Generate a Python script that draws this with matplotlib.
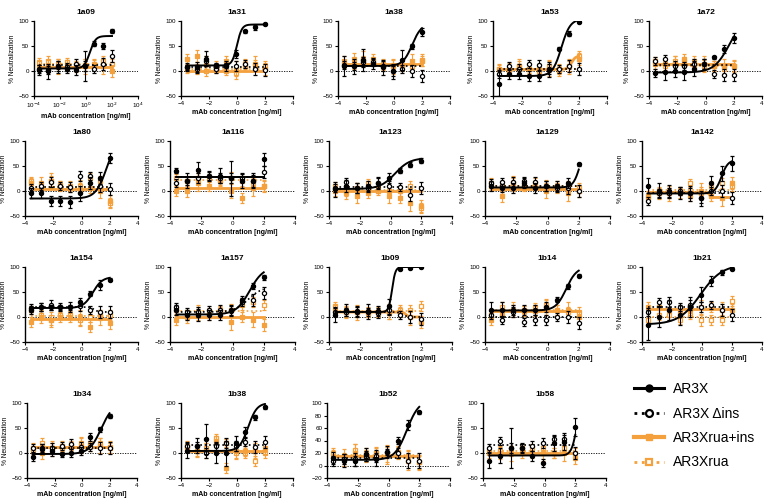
import numpy as np
import matplotlib
matplotlib.use("Agg")
import matplotlib.pyplot as plt
from matplotlib.lines import Line2D

plt.rcParams['font.family'] = ['Liberation Sans', 'DejaVu Sans']

panels = ['1a09', '1a31', '1a38', '1a53', '1a72',
          '1a80', '1a116', '1a123', '1a129', '1a142',
          '1a154', '1a157', '1b09', '1b14', '1b21',
          '1b34', '1b38', '1b52', '1b58']

conc_log = [-3.59, -2.89, -2.19, -1.49, -0.80, -0.10, 0.60, 1.30, 2.00]

ar3x_mean = {
    '1a09': [2, 0, 8, 5, 3, 10, 55, 50, 80],
    '1a31': [8, 8, 25, 12, 12, 35, 80, 88, 95],
    '1a38': [10, 10, 22, 15, 8, 0, 22, 50, 78],
    '1a53': [-25, -5, -5, -10, -10, 3, 45, 75, 98],
    '1a72': [-3, -2, 0, -2, 5, 15, 28, 45, 66],
    '1a80': [-5, -5, -20, -20, -22, -5, 15, 25, 65],
    '1a116': [40, 20, 42, 30, 30, 25, 20, 20, 63],
    '1a123': [3, 10, 5, 10, 15, 25, 40, 52, 60],
    '1a129': [10, 5, 5, 15, 5, 10, 10, 15, 53],
    '1a142': [10, 0, 0, -5, -5, -15, 15, 35, 55],
    '1a154': [15, 20, 20, 20, 20, 30, 47, 65, 75],
    '1a157': [15, 5, 5, 5, 5, 12, 35, 62, 80],
    '1b09': [5, 15, 12, 12, 12, 22, 97, 99, 100],
    '1b14': [15, 15, 15, 15, 15, 20, 35, 62, 83],
    '1b21': [-15, 0, 15, 5, 20, 45, 72, 90, 97],
    '1b34': [-8, 8, 5, -2, 0, 5, 32, 48, 74],
    '1b38': [5, 15, 28, 0, 0, 20, 42, 72, 92],
    '1b52': [12, 8, 8, 18, 10, 22, 40, 65, 85],
    '1b58': [-15, -5, 10, 10, -5, -20, 20, 22, 52],
}
ar3x_err = {
    '1a09': [10, 15, 12, 8, 10, 30, 5, 6, 4],
    '1a31': [5, 10, 15, 5, 5, 8, 3, 5, 2],
    '1a38': [20, 15, 22, 10, 15, 15, 20, 5, 8],
    '1a53': [25, 10, 10, 10, 10, 15, 3, 5, 2],
    '1a72': [8, 15, 12, 15, 15, 10, 3, 8, 10],
    '1a80': [10, 10, 10, 10, 12, 15, 12, 12, 10],
    '1a116': [5, 15, 15, 10, 15, 35, 15, 15, 13],
    '1a123': [15, 12, 10, 10, 12, 10, 5, 5, 5],
    '1a129': [10, 8, 10, 10, 10, 10, 10, 10, 3],
    '1a142': [15, 15, 12, 12, 15, 15, 15, 15, 15],
    '1a154': [8, 8, 5, 5, 5, 8, 5, 10, 3],
    '1a157': [10, 10, 12, 10, 10, 10, 8, 6, 5],
    '1b09': [15, 12, 10, 15, 10, 15, 3, 2, 2],
    '1b14': [15, 15, 10, 10, 10, 10, 5, 5, 3],
    '1b21': [30, 20, 20, 20, 20, 15, 10, 5, 3],
    '1b34': [8, 10, 10, 5, 8, 8, 8, 5, 4],
    '1b38': [15, 15, 30, 20, 25, 15, 10, 5, 3],
    '1b52': [10, 10, 8, 10, 10, 5, 5, 8, 3],
    '1b58': [15, 15, 40, 10, 10, 8, 15, 15, 18],
}
dins_mean = {
    '1a09': [5, 3, 10, 8, 15, 10, 5, 15, 30],
    '1a31': [8, 5, 20, 5, 10, 10, 15, 5, 2],
    '1a38': [12, 10, 18, 18, 10, 0, 5, 0, -10],
    '1a53': [-5, 10, 5, 15, 12, 5, 5, 10, 5],
    '1a72': [20, 25, 10, 10, 15, 15, -5, -8, -8],
    '1a80': [5, 10, 18, 10, 8, 30, 30, 10, 3],
    '1a116': [15, 20, 25, 30, 25, 25, 25, 20, 38],
    '1a123': [5, 18, 5, 5, 15, 10, 8, -8, 5],
    '1a129': [15, 18, 18, 20, 18, 10, 5, 5, 0],
    '1a142': [-20, -5, -5, 0, -5, -15, 0, 0, -15],
    '1a154': [18, 20, 25, 20, 20, 22, 15, 10, 10],
    '1a157': [20, 10, 10, 15, 15, 15, 30, 35, 48],
    '1b09': [10, 10, 10, 10, 8, 15, 5, 0, -3],
    '1b14': [5, -5, 10, -10, -5, -5, 0, 0, -12],
    '1b21': [10, 30, 30, 20, 25, 20, 25, 15, 5],
    '1b34': [10, 10, 10, 15, 18, 12, 12, 10, 10],
    '1b38': [15, 15, 0, 15, 20, 15, 22, 12, 23],
    '1b52': [8, 10, 10, 15, 15, 22, 20, 8, 8],
    '1b58': [10, 25, 10, 10, 15, 20, 28, 28, 0],
}
dins_err = {k: [8, 8, 10, 8, 10, 10, 8, 12, 12] for k in panels}
ruains_mean = {
    '1a09': [10, 10, 10, 12, 8, 10, 12, 10, 0],
    '1a31': [25, 30, 15, 10, 20, 5, 15, 15, 5],
    '1a38': [20, 25, 25, 25, 15, 10, 12, 20, 22],
    '1a53': [5, 5, 10, 5, 5, 5, 0, 10, 25],
    '1a72': [15, 15, 15, 25, 20, 15, 10, 10, 10],
    '1a80': [15, 15, 20, 10, 10, 0, 5, 0, -20],
    '1a116': [0, 0, 15, 10, 20, 0, -15, 5, 10],
    '1a123': [0, -5, -10, -5, 5, -10, -15, -25, -30],
    '1a129': [15, -10, 15, 10, 15, 0, 5, -5, 0],
    '1a142': [-10, -5, -5, -5, -10, 0, -10, -15, 15],
    '1a154': [-10, 0, -5, 0, 0, 0, -20, 0, -12],
    '1a157': [-5, 0, 10, 5, 10, -10, 0, -5, -15],
    '1b09': [15, 10, 10, 10, 10, 12, 10, 0, -10],
    '1b14': [-5, 5, 15, 12, 12, 20, 15, 15, 0],
    '1b21': [20, 20, 15, 10, 15, 20, 20, 15, 15],
    '1b34': [10, 0, 10, 15, 15, 15, 15, 15, 12],
    '1b38': [15, 5, 5, 25, -30, 5, 5, 5, 10],
    '1b52': [15, 15, 20, 15, 20, 18, 22, 8, 5],
    '1b58': [0, 0, 0, 0, 0, 0, 0, 0, -10],
}
ruains_err = {k: [10, 12, 15, 10, 10, 15, 10, 15, 12] for k in panels}
rua_mean = {
    '1a09': [18, 20, 15, 18, 12, 12, 15, 20, 15],
    '1a31': [5, 5, 0, 5, 0, -3, 10, 12, 10],
    '1a38': [15, 15, 20, 20, 10, 10, 10, 10, 20],
    '1a53': [5, 0, 10, 5, 0, 10, 5, 10, 30],
    '1a72': [20, 10, 20, 20, 10, 10, 10, 5, 10],
    '1a80': [20, 5, 20, 12, 5, 10, 25, 20, -25],
    '1a116': [25, 20, 25, 25, 20, 25, 20, 15, 10],
    '1a123': [10, 0, 5, 15, 0, 0, 0, 10, -35],
    '1a129': [10, 10, 15, 10, 10, 10, 10, 10, 5],
    '1a142': [-15, -5, -5, 0, 15, -5, 10, 15, 10],
    '1a154': [15, 5, -5, 5, 5, -5, 0, 5, 5],
    '1a157': [15, 5, 10, 10, 15, 15, 25, 30, 25],
    '1b09': [22, 10, 10, 8, 8, 8, 15, 15, 22],
    '1b14': [5, 20, 15, 15, 20, 25, 15, 10, 10],
    '1b21': [-5, 5, 5, -5, 5, -5, -5, -5, 32],
    '1b34': [5, 20, 10, 10, 15, 20, 20, 20, 10],
    '1b38': [10, 5, 10, 30, 20, 0, 0, -15, 0],
    '1b52': [20, 10, 25, 20, 20, 18, 20, 15, 5],
    '1b58': [5, 5, 5, 10, 10, 10, 0, 10, 0],
}
rua_err = {k: [8, 10, 10, 8, 8, 12, 10, 10, 10] for k in panels}

# fitted 4PL parameters: (bottom, top, logEC50, hill)
ar3x_fit = {
    '1a09': (5, 70, 0.3, 2.0), '1a31': (11, 93, 0.0, 2.5), '1a38': (10, 95, 1.3, 1.3),
    '1a53': (-10, 104, 0.8, 1.4), '1a72': (-3, 110, 1.7, 0.8), '1a80': (-15, 110, 1.8, 1.1),
    '1a116': (27, 27, 0, 1), '1a123': (4, 66, 0.3, 0.9), '1a129': (7, 100, 2.1, 2.0),
    '1a142': (-5, 62, 1.3, 2.0), '1a154': (18, 80, 0.8, 1.3), '1a157': (5, 100, 1.1, 1.0),
    '1b09': (10, 100, 0.1, 4.0), '1b14': (13, 100, 1.2, 1.3), '1b21': (-15, 105, -0.1, 0.6),
    '1b34': (-2, 100, 1.4, 1.0), '1b38': (4, 100, 0.8, 1.4), '1b52': (9, 105, 1.2, 1.1),
    '1b58': (-5, 110, 2.1, 2.5),
}
dins_fit = {
    '1a09': (12, 12, 0, 1), '1a31': (9, 9, 0, 1), '1a38': (10, 10, 0, 1), '1a53': (5, 5, 0, 1),
    '1a72': (12, 12, 0, 1), '1a80': (8, 8, 0, 1), '1a116': (27, 27, 0, 1), '1a123': (7, 7, 0, 1),
    '1a129': (10, 10, 0, 1), '1a142': (-5, -5, 0, 1), '1a154': (20, 10, 0.9, 3),
    '1a157': (10, 60, 1.0, 1.0), '1b09': (10, 0, 0.8, 3), '1b14': (0, 0, 0, 1),
    '1b21': (20, 20, 0, 1), '1b34': (11, 11, 0, 1), '1b38': (17, 17, 0, 1),
    '1b52': (12, 12, 0, 1), '1b58': (17, 17, 0, 1),
}
ruains_fit = {
    '1a09': (8, 8, 0, 1), '1a31': (0, 0, 0, 1), '1a38': (15, 15, 0, 1), '1a53': (3, 30, 1.5, 3),
    '1a72': (15, 15, 0, 1), '1a80': (3, 3, 0, 1), '1a116': (5, 5, 0, 1), '1a123': (-1, -1, 0, 1),
    '1a129': (3, 3, 0, 1), '1a142': (-3, -13, 0.5, 8), '1a154': (-3, -3, 0, 1),
    '1a157': (0, 0, 0, 1), '1b09': (10, 0, 1.0, 5), '1b14': (12, 12, 0, 1),
    '1b21': (17, 17, 0, 1), '1b34': (12, 12, 0, 1), '1b38': (5, 5, 0, 1),
    '1b52': (15, 15, 0, 1), '1b58': (0, 0, 0, 1),
}
rua_fit = {
    '1a09': (15, 15, 0, 1), '1a31': (5, 5, 0, 1), '1a38': (12, 12, 0, 1), '1a53': (5, 5, 0, 1),
    '1a72': (10, 10, 0, 1), '1a80': (8, 8, 0, 1), '1a116': (22, 22, 0, 1), '1a123': (2, 2, 0, 1),
    '1a129': (10, 10, 0, 1), '1a142': (2, 2, 0, 1), '1a154': (3, 3, 0, 1),
    '1a157': (12, 12, 0, 1), '1b09': (12, 12, 0, 1), '1b14': (15, 15, 0, 1),
    '1b21': (0, 0, 0, 1), '1b34': (13, 13, 0, 1), '1b38': (5, 5, 0, 1),
    '1b52': (17, 17, 0, 1), '1b58': (5, 5, 0, 1),
}

BLACK = '#000000'
ORANGE = '#F4A03C'

W, H = 767, 503
fig = plt.figure(figsize=(W / 100, H / 100), dpi=100)

row_tops = [21, 141, 267, 403]
axh = 75
row_lefts = [[34, 181, 338, 493, 649], [25, 170, 329, 485, 642],
             [25, 170, 329, 485, 642], [27, 181, 327, 483]]
row_rights = [[138, 293, 450, 607, 762], [138, 295, 452, 610, 762],
              [138, 295, 452, 610, 762], [137, 293, 450, 606]]


def logistic(x, p):
    b, t, c, h = p
    return b + (t - b) / (1 + 10 ** ((c - x) * h))


xs_curve = np.linspace(conc_log[0], conc_log[-1], 200)

for i, name in enumerate(panels):
    r, c = divmod(i, 5)
    l, rr = row_lefts[r][c], row_rights[r][c]
    top = row_tops[r]
    ax = fig.add_axes([l / W, 1 - (top + axh) / H, (rr - l) / W, axh / H])
    logx = (name == '1a09')
    xp = np.array(conc_log)
    xc = xs_curve
    if logx:
        xp = 10 ** xp
        xc = 10 ** xc
    series = [
        (rua_mean, rua_err, rua_fit, ORANGE, 's', 'white', ':', 1.2),
        (ruains_mean, ruains_err, ruains_fit, ORANGE, 's', ORANGE, '-', 2.0),
        (dins_mean, dins_err, dins_fit, BLACK, 'o', 'white', ':', 1.2),
        (ar3x_mean, ar3x_err, ar3x_fit, BLACK, 'o', BLACK, '-', 1.4),
    ]
    # zero line
    if logx:
        ax.plot([1e-4, 1e4], [0, 0], ls=(0, (1.5, 1.5)), color='black', lw=0.6, zorder=1)
    else:
        ax.plot([-4, 4], [0, 0], ls=(0, (1.5, 1.5)), color='black', lw=0.6, zorder=1)
    for k, (mean, err, fit, col, mk, mfc, ls, lw) in enumerate(series):
        ax.errorbar(xp, mean[name], yerr=err[name], fmt=mk, color=col, mfc=mfc, mec=col,
                    ms=3, mew=0.9, elinewidth=0.8, capsize=1.5, capthick=0.8, zorder=2 + k)
        ax.plot(xc, logistic(xs_curve, fit[name]), ls=ls, color=col, lw=lw, zorder=2 + k)
    if logx:
        ax.set_xscale('log')
        ax.set_xlim(1e-4, 1e4)
        ax.set_xticks([1e-4, 1e-2, 1e0, 1e2, 1e4])
        ax.set_xticklabels(['10$^{-4}$', '10$^{-2}$', '10$^{0}$', '10$^{2}$', '10$^{4}$'])
        ax.minorticks_off()
    else:
        ax.set_xlim(-4, 4)
        ax.set_xticks([-4, -2, 0, 2, 4])
    if name == '1b52':
        ax.set_ylim(-20, 100)
        ax.set_yticks([-20, 0, 20, 40, 60, 80, 100])
    else:
        ax.set_ylim(-50, 100)
        ax.set_yticks([-50, 0, 50, 100])
    for s in ['top', 'right']:
        ax.spines[s].set_visible(False)
    for s in ['left', 'bottom']:
        ax.spines[s].set_linewidth(1.0)
    ax.tick_params(labelsize=4.5, length=2.5, width=0.8, pad=1)
    ax.set_title(name, fontsize=6, fontweight='bold', pad=5)
    ax.set_ylabel('% Neutralization', fontsize=4.8, labelpad=2)
    ax.set_xlabel('mAb concentration [ng/ml]', fontsize=5, fontweight='bold', labelpad=2)

handles = [
    Line2D([], [], color=BLACK, lw=2.2, marker='o', ms=5, mfc=BLACK),
    Line2D([], [], color=BLACK, lw=2.0, ls=':', marker='o', ms=5, mfc='white', mew=1.6),
    Line2D([], [], color=ORANGE, lw=3.0, marker='s', ms=5, mfc=ORANGE),
    Line2D([], [], color=ORANGE, lw=2.0, ls=':', marker='s', ms=5, mfc='white', mew=1.6),
]
labels = ['AR3X', 'AR3X \u0394ins', 'AR3Xrua+ins', 'AR3Xrua']
fig.legend(handles, labels, loc='lower left', bbox_to_anchor=(0.81, 0.042),
           frameon=False, fontsize=10, handlelength=2.2, labelspacing=0.75,
           handletextpad=0.6)

fig.savefig('out.png', dpi=100)
